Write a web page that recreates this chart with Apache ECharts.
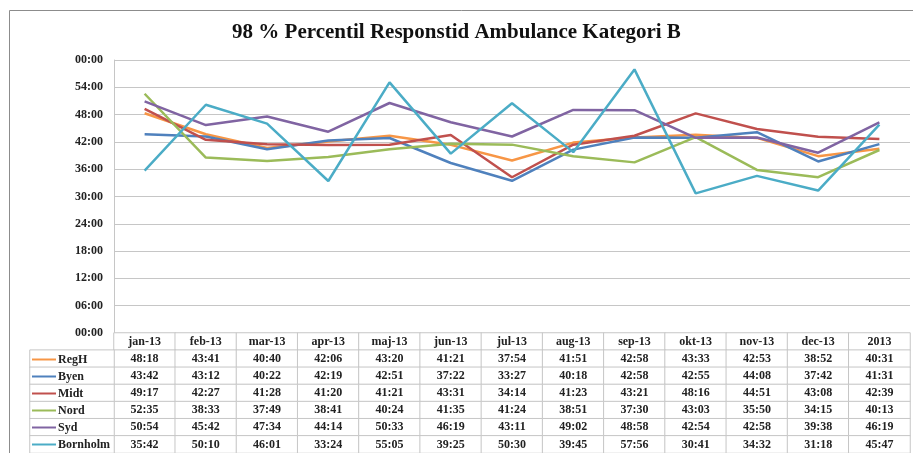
<!DOCTYPE html>
<html>
<head>
<meta charset="utf-8">
<script src="https://cdn.jsdelivr.net/npm/echarts@6/dist/echarts.min.js"></script>
<style>html,body{margin:0;padding:0;background:#fff;}#c{width:913px;height:453px;}</style>
</head>
<body>
<div id="c"></div>
<script>
const titleText = '98 % Percentil Responstid Ambulance Kategori B';
const categories = ['jan-13','feb-13','mar-13','apr-13','maj-13','jun-13','jul-13','aug-13','sep-13','okt-13','nov-13','dec-13','2013'];
const seriesNames = ['RegH','Byen','Midt','Nord','Syd','Bornholm'];
const regH     = ['48:18','43:41','40:40','42:06','43:20','41:21','37:54','41:51','42:58','43:33','42:53','38:52','40:31'];
const byen     = ['43:42','43:12','40:22','42:19','42:51','37:22','33:27','40:18','42:58','42:55','44:08','37:42','41:31'];
const midt     = ['49:17','42:27','41:28','41:20','41:21','43:31','34:14','41:23','43:21','48:16','44:51','43:08','42:39'];
const nord     = ['52:35','38:33','37:49','38:41','40:24','41:35','41:24','38:51','37:30','43:03','35:50','34:15','40:13'];
const syd      = ['50:54','45:42','47:34','44:14','50:33','46:19','43:11','49:02','48:58','42:54','42:58','39:38','46:19'];
const bornholm = ['35:42','50:10','46:01','33:24','55:05','39:25','50:30','39:45','57:56','30:41','34:32','31:18','45:47'];
const colors = ['#F79646','#4F81BD','#C0504D','#9BBB59','#8064A2','#4BACC6'];
const yMin = 0, yMax = 3600, yInterval = 360; // seconds

const allData = [regH, byen, midt, nord, syd, bornholm];
const toSec = s => { const p = s.split(':'); return (+p[0]) * 60 + (+p[1]); };
const pad = n => (n < 10 ? '0' : '') + n;
const fmt = v => pad(Math.floor(v / 60) % 60) + ':' + pad(Math.round(v % 60));

const FONT = 'Liberation Serif';
const gridLine = '#c6c6c6';

const tableRows = [categories].concat(allData);
const tableCells = [];
tableRows.forEach((row, r) => row.forEach((_, c) => tableCells.push([c, r, 0])));
const legendCells = seriesNames.map((_, r) => [0, r, 0]);

const series = allData.map((arr, i) => ({
  name: seriesNames[i],
  type: 'line',
  xAxisIndex: 0, yAxisIndex: 0,
  data: arr.map(toSec),
  symbol: 'none',
  lineStyle: { width: 2.5, color: colors[i] },
  itemStyle: { color: colors[i] },
  z: 5
}));

series.push({
  type: 'heatmap',
  xAxisIndex: 1, yAxisIndex: 1,
  data: tableCells,
  silent: true,
  itemStyle: { color: '#fff', borderColor: gridLine, borderWidth: 1 },
  emphasis: { disabled: true },
  label: {
    show: true,
    fontFamily: FONT, fontWeight: 'bold', fontSize: 12, color: '#222',
    formatter: p => tableRows[p.data[1]][p.data[0]]
  }
});
series.push({
  type: 'heatmap',
  xAxisIndex: 2, yAxisIndex: 2,
  data: legendCells,
  silent: true,
  itemStyle: { color: '#fff', borderColor: gridLine, borderWidth: 1 },
  emphasis: { disabled: true },
  label: { show: false }
});

const hiddenCat = (data, gridIndex, inverse) => ({
  type: 'category', gridIndex, data, inverse: !!inverse,
  axisLine: { show: false }, axisTick: { show: false }, axisLabel: { show: false },
  splitLine: { show: false }
});

const option = {
  animation: false,
  backgroundColor: '#fff',
  color: colors,
  title: {
    text: titleText, left: 'center', top: 17,
    textStyle: { fontFamily: FONT, fontWeight: 'bold', fontSize: 21, color: '#111' }
  },
  legend: {
    data: seriesNames, orient: 'vertical', left: 32, top: 351, padding: 0,
    icon: 'rect', itemWidth: 24, itemHeight: 2, itemGap: 0,
    selectedMode: false,
    textStyle: { fontFamily: FONT, fontWeight: 'bold', fontSize: 12, color: '#222', lineHeight: 17, padding: [0, 0, 0, -3] }
  },
  graphic: [{
    type: 'rect', shape: { x: 9.5, y: 10.5, width: 1000, height: 1000 },
    style: { fill: null, stroke: '#8c8c8c', lineWidth: 1 }, silent: true, z: 100
  }],
  grid: [
    { left: 114, right: 3, top: 60, height: 273 },
    { left: 114, right: 3, top: 333, height: 120 },
    { left: 30, width: 84, top: 333 + 120 / 7, height: 120 * 6 / 7 }
  ],
  xAxis: [
    hiddenCat(categories, 0),
    hiddenCat(categories, 1),
    hiddenCat([''], 2)
  ],
  yAxis: [
    {
      type: 'value', gridIndex: 0, min: yMin, max: yMax, interval: yInterval,
      axisLine: { show: true, lineStyle: { color: gridLine } },
      axisTick: { show: false },
      axisLabel: { formatter: fmt, fontFamily: FONT, fontWeight: 'bold', fontSize: 12, color: '#222', margin: 11 },
      splitLine: { show: true, lineStyle: { color: gridLine } }
    },
    hiddenCat(tableRows.map((_, i) => 'r' + i), 1, true),
    hiddenCat(seriesNames, 2, true)
  ],
  series
};

const chart = echarts.init(document.getElementById('c'), null, { renderer: 'canvas' });
chart.setOption(option);
</script>
</body>
</html>
